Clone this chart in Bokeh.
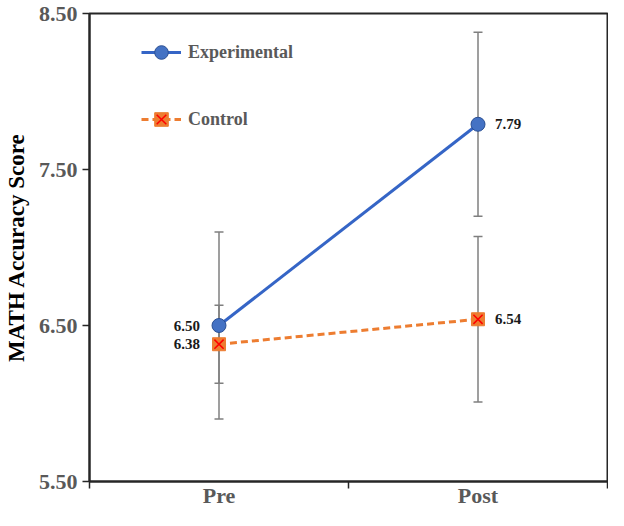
from bokeh.plotting import figure
from bokeh.models import (Range1d, FixedTicker, NumeralTickFormatter, Whisker, TeeHead,
                          ColumnDataSource, Legend, LegendItem)
from bokeh.core.properties import value
from bokeh.embed import file_html
from bokeh.resources import INLINE

# ---- data ----
phases = ["Pre", "Post"]
experimental = [6.50, 7.79]
experimental_err = [0.60, 0.59]
control = [6.38, 6.54]
control_err = [0.25, 0.53]
y_ticks = [5.50, 6.50, 7.50, 8.50]
y_label = "MATH Accuracy Score"
series_names = ["Experimental", "Control"]

FONT = "Liberation Serif"
BLUE = "#3565c6"
BLUE_EDGE = "#2a4f93"
ORANGE = "#ED7D31"
GRAY_TXT = "#595959"
ERR = "#7f7f7f"
AXC = "#262626"

# category slots: each phase occupies one unit, centred at i + 0.5
xs = [i + 0.5 for i in range(len(phases))]
bounds = list(range(len(phases) + 1))

p = figure(x_range=Range1d(bounds[0], bounds[-1]),
           y_range=Range1d(y_ticks[0], y_ticks[-1]),
           width=608, height=510, output_backend="svg", toolbar_location=None,
           min_border_left=85, min_border_right=1,
           min_border_top=13, min_border_bottom=0)
p.grid.visible = False
p.outline_line_color = AXC
p.outline_line_width = 2
p.background_fill_color = "white"
p.border_fill_color = "white"

# x axis: labels at category centres, ticks at category boundaries
xa = p.xaxis[0]
xa.ticker = FixedTicker(ticks=xs, minor_ticks=bounds)
xa.major_label_overrides = {x: name for x, name in zip(xs, phases)}
xa.major_tick_line_color = None
xa.major_tick_out = 0
xa.major_tick_in = 0
xa.minor_tick_out = 7
xa.minor_tick_in = 0
xa.minor_tick_line_color = AXC
xa.minor_tick_line_width = 1.5
xa.axis_line_width = 2
xa.axis_line_color = AXC
xa.major_label_text_font = FONT
xa.major_label_text_font_size = "22px"
xa.major_label_text_font_style = "bold"
xa.major_label_text_color = GRAY_TXT
xa.major_label_standoff = -6

# y axis
ya = p.yaxis[0]
ya.ticker = FixedTicker(ticks=y_ticks)
ya.formatter = NumeralTickFormatter(format="0.00")
ya.major_tick_out = 7
ya.major_tick_in = 0
ya.major_tick_line_width = 1.5
ya.major_tick_line_color = AXC
ya.minor_tick_line_color = None
ya.axis_line_width = 2
ya.axis_line_color = AXC
ya.major_label_text_font = FONT
ya.major_label_text_font_size = "22px"
ya.major_label_text_font_style = "bold"
ya.major_label_text_color = GRAY_TXT
ya.major_label_standoff = 5
ya.axis_label = y_label
ya.axis_label_text_font = FONT
ya.axis_label_text_font_size = "23px"
ya.axis_label_text_font_style = "bold"
ya.axis_label_text_color = "black"
ya.axis_label_standoff = 7

# error bars
for vals, errs in ((experimental, experimental_err), (control, control_err)):
    src = ColumnDataSource(dict(x=xs,
                                upper=[v + e for v, e in zip(vals, errs)],
                                lower=[v - e for v, e in zip(vals, errs)]))
    w = Whisker(base="x", upper="upper", lower="lower", source=src,
                line_color=ERR, line_width=1.5, level="underlay",
                upper_head=TeeHead(size=9, line_color=ERR, line_width=1.5),
                lower_head=TeeHead(size=9, line_color=ERR, line_width=1.5))
    p.add_layout(w)

# series
exp_line = p.line(xs, experimental, line_color=BLUE, line_width=3)
ctl_line = p.line(xs, control, line_color=ORANGE, line_width=3, line_dash="7 4")
exp_mark = p.scatter(xs, experimental, marker="circle", size=14,
                     fill_color="#4472C4", line_color=BLUE_EDGE, line_width=1)
ctl_sq = p.scatter(xs, control, marker="square", size=13,
                   fill_color=ORANGE, line_color=ORANGE, line_width=1)
ctl_x = p.scatter(xs, control, marker="x", size=13,
                  line_color="#FF0000", line_width=1.5)

# data labels
for vals in (experimental, control):
    lsrc = ColumnDataSource(dict(x=xs, y=vals,
                                 t=[f"{v:.2f}" for v in vals],
                                 align=["right", "left"],
                                 xo=[-19, 17]))
    p.text(x="x", y="y", text="t", source=lsrc, text_align="align", x_offset="xo",
           text_baseline="middle", text_font=value(FONT), text_font_size="15px",
           text_font_style="bold", text_color="#1a1a1a")

legend = Legend(items=[LegendItem(label=series_names[0], renderers=[exp_line, exp_mark]),
                       LegendItem(label=series_names[1], renderers=[ctl_line, ctl_sq, ctl_x])],
                location=(52, 345), padding=0, margin=0, spacing=33,
                glyph_width=40, glyph_height=34, label_height=34, label_standoff=7,
                label_text_font=FONT, label_text_font_size="18px",
                label_text_font_style="bold", label_text_color=GRAY_TXT,
                border_line_color=None, background_fill_alpha=0)
p.add_layout(legend)

open("out.html", "w").write(file_html(p, INLINE))
